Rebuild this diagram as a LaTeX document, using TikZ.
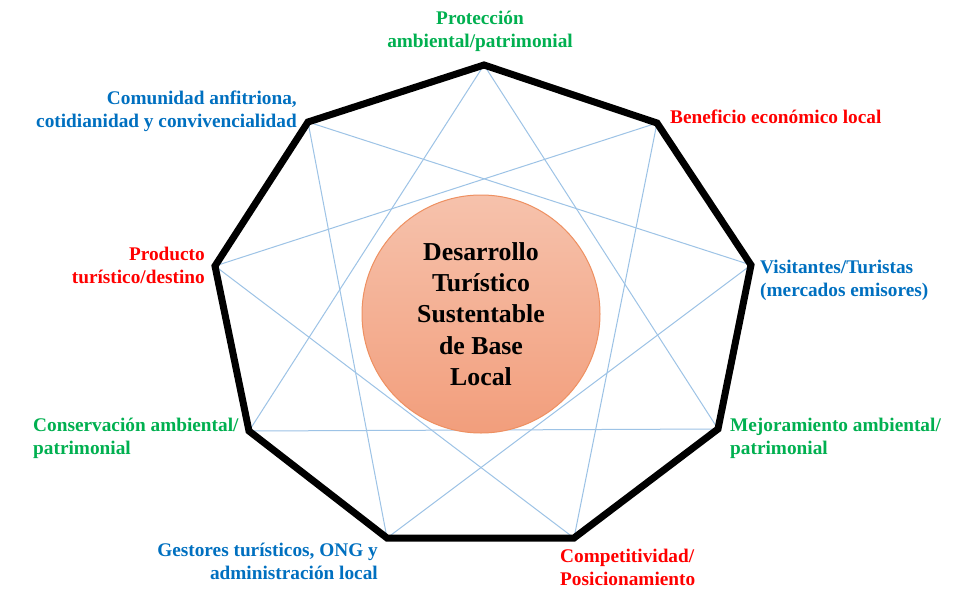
\documentclass[tikz,border=0pt]{standalone}
\usepackage{fontspec}
\setmainfont{Liberation Serif}
\definecolor{lgreen}{HTML}{00B050}
\definecolor{lred}{HTML}{FF0000}
\definecolor{lblue}{HTML}{0070C0}
\definecolor{starblue}{HTML}{9DC3E6}
\definecolor{circtop}{HTML}{F6C2AC}
\definecolor{circbot}{HTML}{F29E7C}
\definecolor{circedge}{HTML}{EE9061}
\begin{document}
\begin{tikzpicture}[x=1pt,y=-1pt,
  lbl/.style={font=\fontsize{19.3}{23}\selectfont\bfseries, inner sep=0pt},
  frame/.style={line width=7pt, line join=miter, black},
  starline/.style={draw=starblue, line width=1pt},
  core/.style={circle, minimum size=238pt, inner sep=0pt, draw=circedge, line width=1pt,
    top color=circtop, bottom color=circbot, align=center,
    font=\fontsize{25.8}{31.3}\selectfont\bfseries}]
\useasboundingbox (0,0) rectangle (975,602);
\fill[white] (0,0) rectangle (975,602);
% vertices
\coordinate (v1) at (484,65);
\coordinate (v2) at (657,123);
\coordinate (v3) at (751,265);
\coordinate (v4) at (718,429);
\coordinate (v5) at (574,538);
\coordinate (v6) at (387,538);
\coordinate (v7) at (249,431);
\coordinate (v8) at (215,266);
\coordinate (v9) at (308,122);
% star triangles
\draw[starline] (v1) -- (v4) -- (v7) -- cycle;
\draw[starline] (v2) -- (v5) -- (v8) -- cycle;
\draw[starline] (v3) -- (v6) -- (v9) -- cycle;
% frame
\draw[frame] (v1) -- (v2) -- (v3) -- (v4) -- (v5) -- (v6) -- (v7) -- (v8) -- (v9) -- cycle;
% center
\node[core] (center) at (481,314) {Desarrollo\\Turístico\\Sustentable\\de Base\\Local};
% labels
\node[lbl, text=lgreen, align=center] (lprot) at (480,31) {Protección\\ambiental/patrimonial};
\node[lbl, text=lred, anchor=west] (lbenef) at (670,117) {Beneficio económico local};
\node[lbl, text=lblue, anchor=west, align=left] (lvisit) at (760,280) {Visitantes/Turistas\\(mercados emisores)};
\node[lbl, text=lgreen, anchor=west, align=left] (lmejor) at (730,438) {Mejoramiento ambiental/\\patrimonial};
\node[lbl, text=lred, anchor=west, align=left] (lcomp) at (560,567.5) {Competitividad/\\Posicionamiento};
\node[lbl, text=lblue, anchor=east, align=right] (lgest) at (378,561.5) {Gestores turísticos, ONG y\\administración local};
\node[lbl, text=lgreen, anchor=west, align=left] (lcons) at (33,438.5) {Conservación ambiental/\\patrimonial};
\node[lbl, text=lred, anchor=east, align=right] (lprod) at (205,265) {Producto\\turístico/destino};
\node[lbl, text=lblue, anchor=east, align=right] (lcomu) at (297,111.5) {Comunidad anfitriona,\\cotidianidad y convivencialidad};
\end{tikzpicture}
\end{document}
